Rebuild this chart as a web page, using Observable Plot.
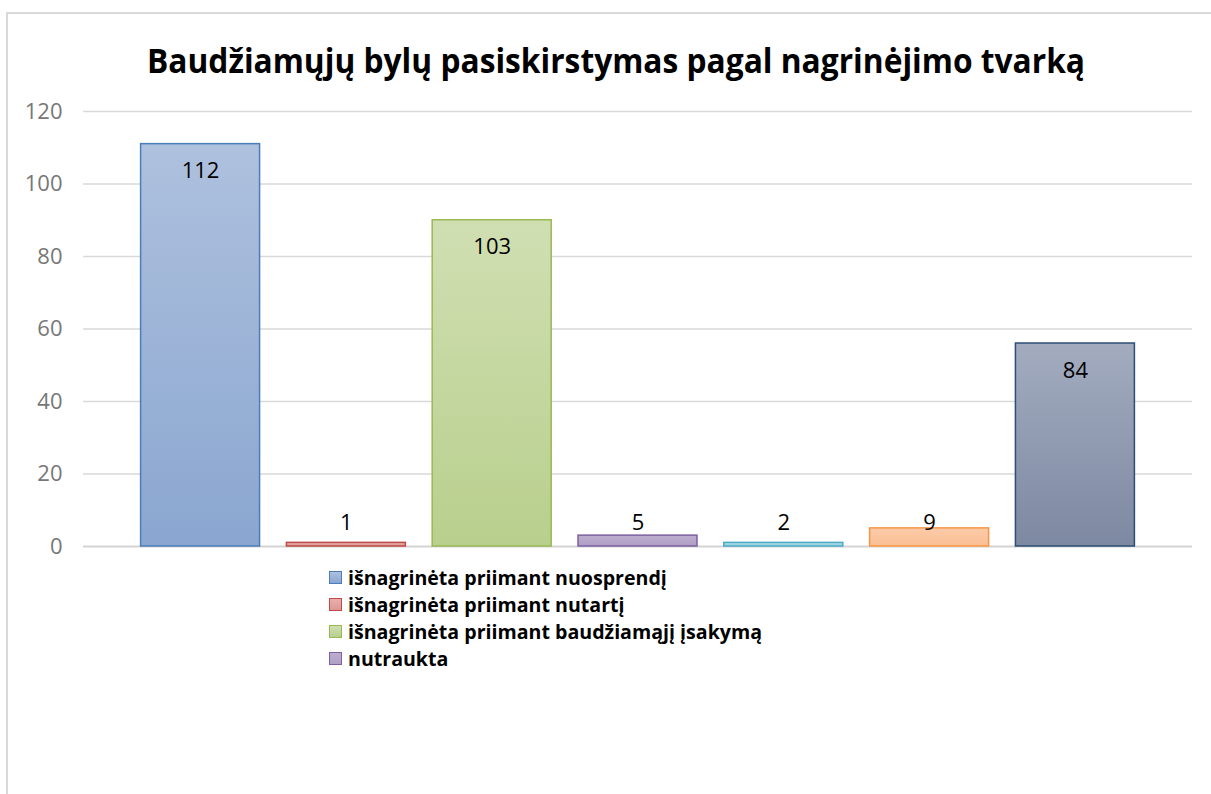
<!DOCTYPE html>
<html><head><meta charset="utf-8">
<script src="https://cdn.jsdelivr.net/npm/d3@7"></script>
<script src="https://cdn.jsdelivr.net/npm/@observablehq/plot@0.6"></script>
<style>
html,body{margin:0;padding:0;background:#fff;overflow:hidden;width:1211px;height:794px;}
#frame{position:absolute;left:6px;top:12px;width:1300px;height:900px;border-left:2px solid #d9d9d9;border-top:2px solid #d9d9d9;}
#title{position:absolute;left:616px;top:40px;line-height:40px;font-family:"Open Sans";font-weight:bold;font-size:34px;white-space:nowrap;color:#000;transform-origin:0 50%;}
#chart{position:absolute;left:0;top:90px;}
#legend{position:absolute;left:329px;top:564px;font-family:"Open Sans";font-weight:bold;font-size:20px;color:#000;}
.row{height:27px;line-height:27px;white-space:nowrap;display:flex;align-items:center;}
.sw{width:11px;height:11px;border:1.5px solid;margin-right:6px;flex:none;}
.lt{display:inline-block;transform-origin:0 50%;}
</style>
</head><body>
<div id="frame"></div>
<div id="title"></div>
<div id="chart"></div>
<div id="legend"></div>
<script>
const titleText = "Baudžiamųjų bylų pasiskirstymas pagal nagrinėjimo tvarką";
const series = [
  "išnagrinėta priimant nuosprendį",
  "išnagrinėta priimant nutartį",
  "išnagrinėta priimant baudžiamąjį įsakymą",
  "nutraukta",
  "serija 5",
  "serija 6",
  "serija 7"
];
const legendCount = 4;
const barHeights = [111, 1, 90, 3, 1, 5, 56];
const labels = [112, 1, 103, 5, 2, 9, 84];
const yTicks = [0, 20, 40, 60, 80, 100, 120];
const fillTop = ["#aec1de", "#e8aeac", "#d0dfb2", "#bdaed0", "#aad8e5", "#fccba9", "#a3acbf"];
const fillBottom = ["#8aa6d0", "#dc9896", "#b8cf8d", "#b09fc6", "#9dd0de", "#fbbe93", "#7d88a2"];
const strokes = ["#4a7ebb", "#be4b48", "#98b954", "#7d60a0", "#4bacc6", "#f79646", "#2c4d75"];

const ns = "http://www.w3.org/2000/svg";
const defsSvg = document.createElementNS(ns, "svg");
defsSvg.setAttribute("width", 0); defsSvg.setAttribute("height", 0);
defsSvg.style.position = "absolute";
const defs = document.createElementNS(ns, "defs");
fillTop.forEach((c, i) => {
  const g = document.createElementNS(ns, "linearGradient");
  g.setAttribute("id", "g" + i);
  g.setAttribute("x1", "0"); g.setAttribute("y1", "0");
  g.setAttribute("x2", "0"); g.setAttribute("y2", "1");
  [[0, c], [1, fillBottom[i]]].forEach(([o, col]) => {
    const s = document.createElementNS(ns, "stop");
    s.setAttribute("offset", o); s.setAttribute("stop-color", col);
    g.appendChild(s);
  });
  defs.appendChild(g);
});
defsSvg.appendChild(defs);
document.body.appendChild(defsSvg);

const data = series.map((s, i) => ({s, v: barHeights[i], label: labels[i], i}));

const chart = Plot.plot({
  width: 1211, height: 470,
  marginTop: 21, marginBottom: 14, marginLeft: 83, marginRight: 19,
  style: {fontFamily: "Open Sans", fontSize: "22px", background: "transparent", color: "#777777", overflow: "visible"},
  x: {domain: series, axis: null, paddingInner: 0.184, paddingOuter: 0.395, round: false},
  y: {domain: [0, 120], ticks: yTicks, tickSize: 0, tickPadding: 21, label: null},
  color: {type: "identity"},
  marks: [
    Plot.gridY(yTicks.filter(t => t > 0), {stroke: "#d9d9d9", strokeOpacity: 1, strokeWidth: 1.5}),
    Plot.ruleY([0], {stroke: "#d4d4d4", strokeWidth: 2}),
    Plot.barY(data, {x: "s", y: "v", fill: d => `url(#g${d.i})`, stroke: d => strokes[d.i], strokeWidth: 1.5}),
    Plot.text(data, {x: "s", y: d => Math.max(d.v, 14), dy: 27, text: "label", fill: "#000", fontSize: 22})
  ]
});
document.getElementById("chart").appendChild(chart);

// title
const t = document.getElementById("title");
t.textContent = titleText;
const tw = t.getBoundingClientRect().width;
const k = 938 / tw;
t.style.transform = `scaleX(${k}) translateX(-50%)`;

// legend
const lg = document.getElementById("legend");
const spans = [];
series.slice(0, legendCount).forEach((s, i) => {
  const row = document.createElement("div"); row.className = "row";
  const sw = document.createElement("span"); sw.className = "sw";
  sw.style.borderColor = strokes[i];
  sw.style.background = `linear-gradient(${fillTop[i]}, ${fillBottom[i]})`;
  const tx = document.createElement("span"); tx.className = "lt"; tx.textContent = s;
  row.appendChild(sw); row.appendChild(tx);
  lg.appendChild(row);
  spans.push(tx);
});
const maxW = Math.max(...spans.map(s => s.getBoundingClientRect().width));
const lk = 414 / maxW;
spans.forEach(s => s.style.transform = `scaleX(${lk})`);
</script>
</body></html>
